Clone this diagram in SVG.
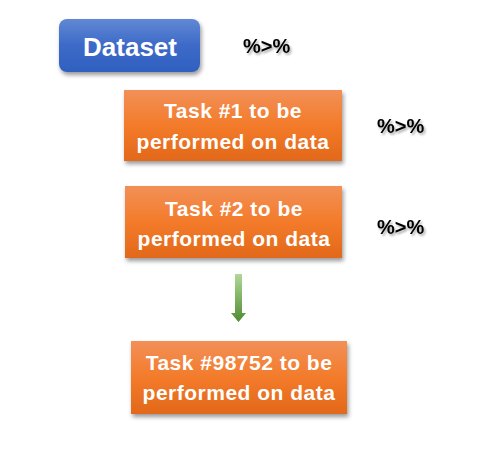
<svg xmlns="http://www.w3.org/2000/svg" width="482" height="473" viewBox="0 0 482 473">
<defs>
<linearGradient id="gBlue" x1="0" y1="0" x2="0" y2="1">
<stop offset="0" stop-color="#6088d4"/>
<stop offset="0.5" stop-color="#3d6ac8"/>
<stop offset="1" stop-color="#3060c0"/>
</linearGradient>
<linearGradient id="gOrange" x1="0" y1="0" x2="0" y2="1">
<stop offset="0" stop-color="#f29058"/>
<stop offset="0.5" stop-color="#f37b2a"/>
<stop offset="1" stop-color="#e2681a"/>
</linearGradient>
<linearGradient id="gGreen" x1="0" y1="0" x2="0" y2="1">
<stop offset="0" stop-color="#b0d898"/>
<stop offset="1" stop-color="#4f8a32"/>
</linearGradient>
<filter id="shadow" x="-10%" y="-10%" width="125%" height="140%">
<feDropShadow dx="1.5" dy="3" stdDeviation="2" flood-color="#000" flood-opacity="0.4"/>
</filter>
<filter id="tshadow" x="-20%" y="-30%" width="150%" height="170%">
<feDropShadow dx="1.5" dy="2" stdDeviation="1.2" flood-color="#000" flood-opacity="0.35"/>
</filter>
</defs>
<style>
.lbl{font-family:"Liberation Sans",Arial,sans-serif;font-weight:bold;fill:#fff;text-anchor:middle}
.task{font-size:21px;letter-spacing:0.5px}
.pipe{font-family:"Liberation Sans",Arial,sans-serif;font-weight:bold;font-size:20px;fill:#000;filter:url(#tshadow)}
</style>
<rect width="482" height="473" fill="#fff"/>
<g id="dataset">
<rect x="59" y="19" width="141" height="53" rx="8" fill="url(#gBlue)" filter="url(#shadow)"/>
<text class="lbl" x="130" y="56" font-size="26">Dataset</text>
</g>
<g id="task1">
<rect x="124" y="90" width="218" height="71" fill="url(#gOrange)" filter="url(#shadow)"/>
<text class="lbl task" x="233" y="118">Task #1 to be</text>
<text class="lbl task" x="233" y="149">performed on data</text>
</g>
<g id="task2">
<rect x="125" y="186" width="217" height="72" fill="url(#gOrange)" filter="url(#shadow)"/>
<text class="lbl task" x="234" y="216">Task #2 to be</text>
<text class="lbl task" x="234" y="246">performed on data</text>
</g>
<g id="task3">
<rect x="131" y="341" width="216" height="73" fill="url(#gOrange)" filter="url(#shadow)"/>
<text class="lbl task" x="239" y="370">Task #98752 to be</text>
<text class="lbl task" x="239" y="400">performed on data</text>
</g>
<g id="connectors">
<polygon points="235,274 242,274 242,313 246,313 238.5,322 231,313 235,313" fill="url(#gGreen)"/>
</g>
<g id="pipes">
<text class="pipe" x="243" y="53">%&gt;%</text>
<text class="pipe" x="377" y="133">%&gt;%</text>
<text class="pipe" x="377" y="234">%&gt;%</text>
</g>
</svg>
